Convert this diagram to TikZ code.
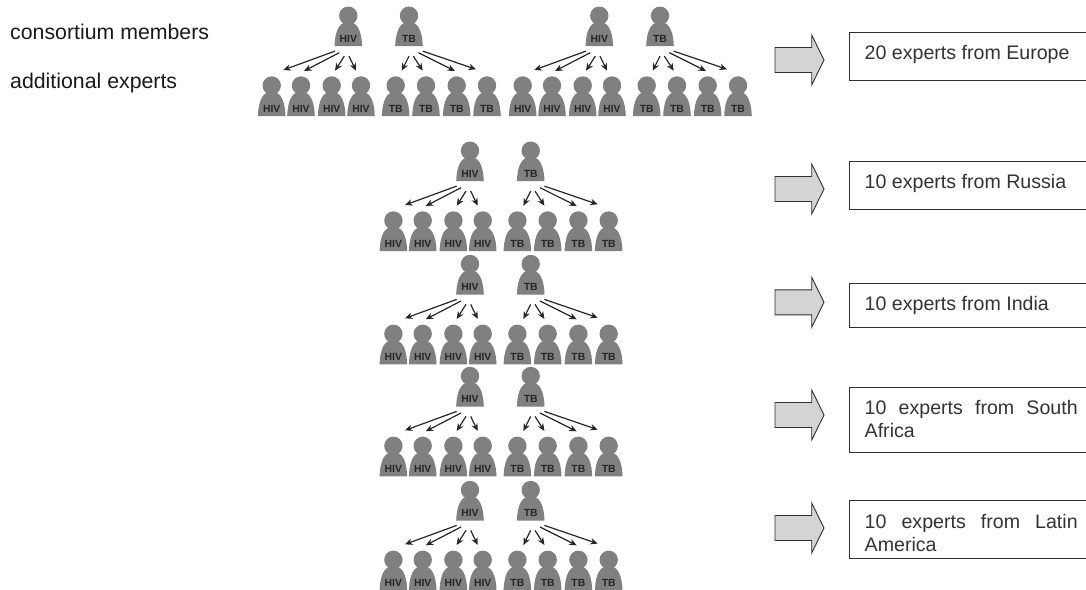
\documentclass[tikz,border=0pt]{standalone}
\usepackage{fontspec}
\setmainfont{Liberation Sans}
\usetikzlibrary{arrows.meta}
\definecolor{persongray}{HTML}{808080}
\definecolor{labelgray}{HTML}{262626}
\definecolor{arrowfill}{HTML}{D4D4D4}
\definecolor{edgegray}{HTML}{303030}
\tikzset{
  x=1pt,y=-1pt,
  personbody/.style={fill=persongray,draw=none},
  personlabel/.style={inner sep=0pt,text=labelgray,font=\fontsize{10.4}{10.4}\selectfont\bfseries},
  tiearrow/.style={-{Stealth[length=7.5pt,width=6.5pt]},line width=1.2pt,draw=black!85},
  bigarrow/.style={fill=arrowfill,draw=edgegray,line width=0.9pt,line join=miter},
  expertbox/.style={draw=edgegray,line width=0.9pt,fill=white,inner sep=0pt,anchor=north west,minimum width=260pt},
  boxtext/.style={inner sep=0pt,anchor=base west,text width=213pt,align=justify,font=\fontsize{19.6}{23}\selectfont,text=black!80},
  legendtext/.style={inner sep=0pt,anchor=base west,font=\fontsize{21.3}{21.3}\selectfont,text=black!90}
}
\newcommand{\personat}[4]{%
  \begin{scope}[shift={(#2,#3)}]
    \fill[personbody] (0,0) circle[radius=9.2];
    \fill[personbody] (-13.8,30.5) .. controls (-13.5,20) and (-11,9) .. (-4,7) -- (4,7)
      .. controls (11,9) and (13.5,20) .. (13.8,30.5) -- cycle;
    \node[personlabel] (#1) at (0,23.3) {#4};
  \end{scope}}
\newcommand{\conn}[7]{%
  \draw[tiearrow] ([shift={(#2,#3)}]#1.center) -- ([shift={(#6,#7)}]#4#5.center);}
\newcommand{\treegroup}[3]{%
  \begin{scope}[shift={(#2,#3)}]
    \personat{#1h}{348.3}{15.7}{HIV}
    \personat{#1t}{409}{15.7}{TB}
    \personat{#1c1}{271.7}{85.5}{HIV}
    \personat{#1c2}{301}{85.5}{HIV}
    \personat{#1c3}{331.7}{85.5}{HIV}
    \personat{#1c4}{361}{85.5}{HIV}
    \personat{#1c5}{395.7}{85.5}{TB}
    \personat{#1c6}{426}{85.5}{TB}
    \personat{#1c7}{456.7}{85.5}{TB}
    \personat{#1c8}{487}{85.5}{TB}
    \conn{#1h}{-13.3}{12.1}{#1}{c1}{11.6}{-38.8}
    \conn{#1h}{-9}{13.7}{#1}{c2}{3}{-37.8}
    \conn{#1h}{-4}{17.1}{#1}{c3}{3.3}{-38.1}
    \conn{#1h}{0.7}{17.1}{#1}{c4}{-5}{-38.1}
    \conn{#1t}{0}{17.1}{#1}{c5}{6}{-38.1}
    \conn{#1t}{4.3}{17.1}{#1}{c6}{-3.3}{-38.1}
    \conn{#1t}{9.3}{13.7}{#1}{c7}{-1.7}{-37.8}
    \conn{#1t}{13.7}{12.1}{#1}{c8}{-11}{-39.5}
  \end{scope}}
\newcommand{\bigarrowat}[1]{%
  \draw[bigarrow] (775,#1-12.5) -- (811.7,#1-12.5) -- (811.7,#1-25) -- (824,#1) -- (811.7,#1+25)
    -- (811.7,#1+12.5) -- (775,#1+12.5) -- cycle;}
\begin{document}
\begin{tikzpicture}
\useasboundingbox (0,0) rectangle (1086,589);
\clip (0,0) rectangle (1086,589);
\node[legendtext] (legendA) at (10,39.3) {consortium members};
\node[legendtext] (legendB) at (10,88.6) {additional experts};
\treegroup{a}{0}{0}
\treegroup{b}{251}{0}
\treegroup{c}{121.7}{135}
\treegroup{d}{121.7}{248.3}
\treegroup{e}{121.7}{360.3}
\treegroup{f}{121.7}{474.3}
\bigarrowat{60}
\bigarrowat{189}
\bigarrowat{302.3}
\bigarrowat{415}
\bigarrowat{528}
\node[expertbox,minimum height=48.5pt] (box1) at (849,31.5) {};
\node[expertbox,minimum height=48.5pt] (box2) at (849,160.7) {};
\node[expertbox,minimum height=43.5pt] (box3) at (849,283.3) {};
\node[expertbox,minimum height=64.7pt] (box4) at (849,387) {};
\node[expertbox,minimum height=58pt] (box5) at (849,500) {};
\node[boxtext] (t1) at (864.5,59.3) {20 experts from Europe};
\node[boxtext] (t2) at (864.5,188.7) {10 experts from Russia};
\node[boxtext] (t3) at (864.5,310.5) {10 experts from India};
\node[boxtext] (t4) at (864.5,414.7) {10 experts from South Africa};
\node[boxtext] (t5) at (864.5,528) {10 experts from Latin America};
\end{tikzpicture}
\end{document}
